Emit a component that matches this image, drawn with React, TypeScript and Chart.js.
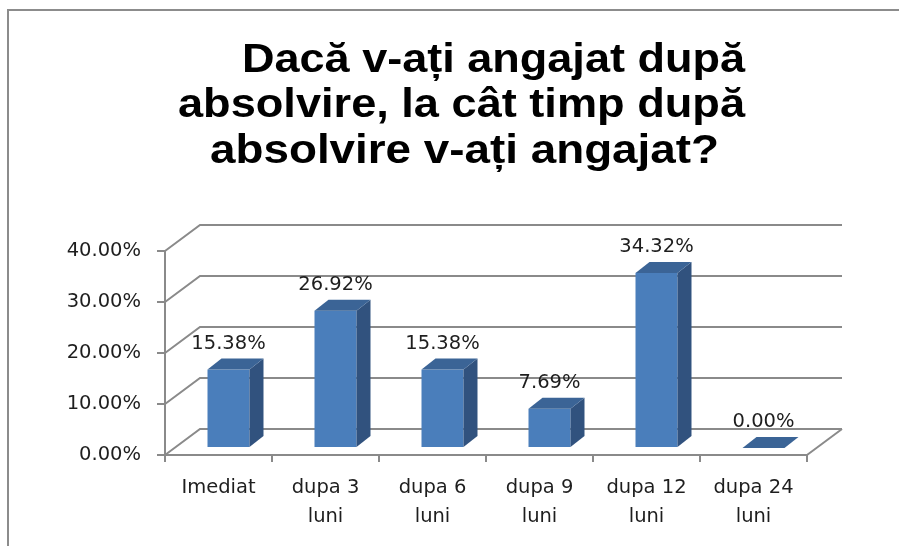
import React, { useEffect, useRef } from 'react';
import { Chart, registerables } from 'chart.js';

Chart.register(...registerables);

const TITLE_LINES = [
  'Dacă v-ați angajat după',
  'absolvire, la cât timp după',
  'absolvire v-ați angajat?',
];
const CATEGORIES = [
  ['Imediat'],
  ['dupa 3', 'luni'],
  ['dupa 6', 'luni'],
  ['dupa 9', 'luni'],
  ['dupa 12', 'luni'],
  ['dupa 24', 'luni'],
];
const VALUES = [15.38, 26.92, 15.38, 7.69, 34.32, 0.0];
const Y_MIN = 0;
const Y_MAX = 40;
const Y_STEP = 10;

const GRID = '#8a8a8a';
const FRONT = '#4a7ebb';
const SIDE = '#31527e';
const TOP = '#3b6496';
const TEXT = '#1e1e1e';
const LABEL_FONT = '"DejaVu Sans", sans-serif';

const WALL_DX = 35;
const WALL_DY = -26;
const BAR_DX = 10;
const BAR_DY = -7;
const DEPTH_DX = 14;
const DEPTH_DY = -11;

// title line boxes: [left, right, baseline]
const TITLE_BOXES = [
  [242, 745, 72],
  [178, 745, 117],
  [210, 719, 163],
];

const excel3d = {
  id: 'excel3d',
  beforeDatasetsDraw(chart: any) {
    const { ctx, chartArea, scales } = chart;
    const { left, right } = chartArea;
    const y = scales.y;
    ctx.save();
    ctx.strokeStyle = GRID;
    ctx.lineWidth = 2;
    y.ticks.forEach((t: any) => {
      const p = y.getPixelForValue(t.value);
      ctx.beginPath();
      ctx.moveTo(left, p);
      ctx.lineTo(left + WALL_DX, p + WALL_DY);
      ctx.lineTo(right + WALL_DX, p + WALL_DY);
      ctx.stroke();
    });
    const p0 = y.getPixelForValue(Y_MIN);
    ctx.beginPath();
    ctx.moveTo(right, p0);
    ctx.lineTo(right + WALL_DX, p0 + WALL_DY);
    ctx.stroke();
    // y axis extends slightly below floor
    ctx.beginPath();
    ctx.moveTo(left, p0);
    ctx.lineTo(left, p0 + 7);
    ctx.stroke();
    ctx.restore();
  },
  beforeDatasetDraw(chart: any, args: any) {
    const { ctx } = chart;
    ctx.save();
    args.meta.data.forEach((bar: any) => {
      const { x, y, base, width } = bar.getProps(['x', 'y', 'base', 'width'], true);
      const l = x - width / 2 + BAR_DX;
      const r = x + width / 2 + BAR_DX;
      const t = y + BAR_DY;
      const b = base + BAR_DY;
      if (b - t > 0.5) {
        ctx.fillStyle = FRONT;
        ctx.fillRect(l, t, r - l, b - t);
        ctx.fillStyle = SIDE;
        ctx.beginPath();
        ctx.moveTo(r, t);
        ctx.lineTo(r + DEPTH_DX, t + DEPTH_DY);
        ctx.lineTo(r + DEPTH_DX, b + DEPTH_DY);
        ctx.lineTo(r, b);
        ctx.closePath();
        ctx.fill();
      }
      ctx.fillStyle = TOP;
      ctx.beginPath();
      ctx.moveTo(l, t);
      ctx.lineTo(l + DEPTH_DX, t + DEPTH_DY);
      ctx.lineTo(r + DEPTH_DX, t + DEPTH_DY);
      ctx.lineTo(r, t);
      ctx.closePath();
      ctx.fill();
    });
    ctx.restore();
    return false;
  },
  afterDatasetsDraw(chart: any) {
    const { ctx } = chart;
    const meta = chart.getDatasetMeta(0);
    ctx.save();
    ctx.font = `19.5px ${LABEL_FONT}`;
    ctx.fillStyle = TEXT;
    ctx.textAlign = 'center';
    ctx.textBaseline = 'middle';
    meta.data.forEach((bar: any, i: number) => {
      const { x, y } = bar.getProps(['x', 'y'], true);
      const backTop = y + BAR_DY + DEPTH_DY;
      ctx.fillText(VALUES[i].toFixed(2) + '%', x + BAR_DX, backTop - 15);
    });
    ctx.restore();
  },
  afterDraw(chart: any) {
    const { ctx } = chart;
    ctx.save();
    // border
    ctx.strokeStyle = '#8c8c8c';
    ctx.lineWidth = 2;
    ctx.beginPath();
    ctx.moveTo(8, 546);
    ctx.lineTo(8, 10);
    ctx.lineTo(899, 10);
    ctx.stroke();
    // title
    ctx.fillStyle = '#000';
    ctx.font = 'bold 41px "Liberation Sans", Arial, sans-serif';
    ctx.textAlign = 'left';
    ctx.textBaseline = 'alphabetic';
    TITLE_LINES.forEach((line, i) => {
      const [l, r, base] = TITLE_BOXES[i];
      const w = ctx.measureText(line).width;
      ctx.save();
      ctx.translate(l, base);
      ctx.scale((r - l) / w, 1);
      ctx.fillText(line, 0, 0);
      ctx.restore();
    });
    ctx.restore();
  },
};

export default function App() {
  const ref = useRef<HTMLCanvasElement | null>(null);
  useEffect(() => {
    if (!ref.current) return;
    const chart = new Chart(ref.current, {
      type: 'bar',
      data: {
        labels: CATEGORIES,
        datasets: [
          {
            data: VALUES,
            backgroundColor: FRONT,
            categoryPercentage: 1,
            barPercentage: 0.3925,
          },
        ],
      },
      options: {
        animation: false,
        responsive: false,
        layout: { padding: { top: 251, right: 92, bottom: 0, left: 0 } },
        plugins: {
          legend: { display: false },
          tooltip: { enabled: false },
          title: { display: false },
        },
        scales: {
          x: {
            afterFit(scale: any) {
              scale.height = 91;
            },
            grid: {
              drawOnChartArea: false,
              tickLength: 7,
              color: GRID,
              lineWidth: 2,
              offset: true,
            },
            border: { display: true, color: GRID, width: 2 },
            ticks: {
              color: TEXT,
              font: { family: LABEL_FONT, size: 19.5, lineHeight: 1.5 },
              padding: 11,
              maxRotation: 0,
              autoSkip: false,
            },
          },
          y: {
            min: Y_MIN,
            max: Y_MAX,
            afterFit(scale: any) {
              scale.width = 165;
            },
            grid: {
              drawOnChartArea: false,
              tickLength: 8,
              color: GRID,
              lineWidth: 2,
            },
            border: { display: true, color: GRID, width: 2 },
            ticks: {
              stepSize: Y_STEP,
              color: TEXT,
              font: { family: LABEL_FONT, size: 19.5 },
              padding: 16,
              callback: (v: any) => Number(v).toFixed(2) + '%',
            },
          },
        },
      },
      plugins: [excel3d],
    });
    return () => chart.destroy();
  }, []);
  return (
    <div style={{ position: 'fixed', left: 0, top: 0, width: 899, height: 546, background: '#fff' }}>
      <canvas ref={ref} width={899} height={546} style={{ display: 'block' }} />
    </div>
  );
}
